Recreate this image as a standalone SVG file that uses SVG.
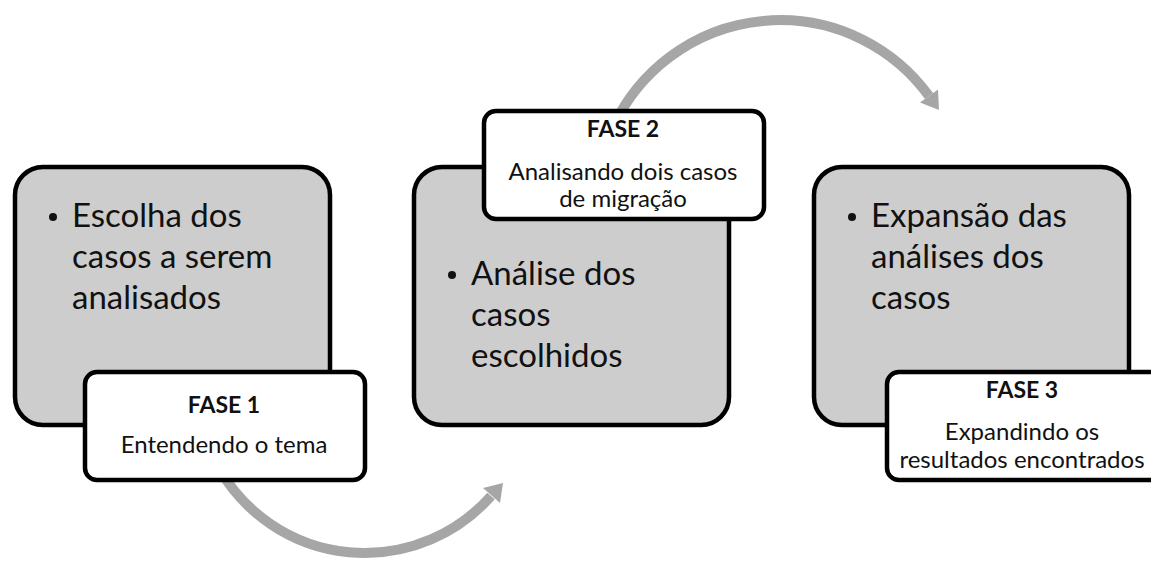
<svg xmlns="http://www.w3.org/2000/svg" width="1151" height="562" viewBox="0 0 1151 562">
<style>
.gray{fill:#cdcdcd;stroke:#000;stroke-width:4.5}
.white{fill:#fff;stroke:#000;stroke-width:4.5}
.big{font-family:Lato,"Open Sans",sans-serif;font-size:33px;fill:#111}
.head{font-family:Lato,"Open Sans",sans-serif;font-size:23px;font-weight:bold;fill:#111;text-anchor:middle}
.body{font-family:Lato,"Open Sans",sans-serif;font-size:24px;fill:#111;text-anchor:middle}
.arc{fill:none;stroke:#a6a6a6;stroke-width:10}
.head-a{fill:#a6a6a6}
</style>
<rect width="1151" height="562" fill="#fff"/>
<g id="connectors">
<path class="arc" d="M 614 125 A 184 184 0 0 1 929 96"/>
<polygon class="head-a" points="939,110 938,89.5 920,102.5"/>
<path class="arc" d="M 220 470 A 168 168 0 0 0 491 496"/>
<polygon class="head-a" points="503,483 500,503 483,488"/>
</g>
<g id="node1">
<rect class="gray" x="15" y="167" width="315" height="258" rx="28"/>
<circle cx="53" cy="217" r="4" fill="#111"/>
<text class="big" x="72" y="227">Escolha dos</text>
<text class="big" x="72" y="268">casos a serem</text>
<text class="big" x="72" y="309">analisados</text>
</g>
<g id="node2">
<rect class="gray" x="414" y="167" width="315" height="258" rx="28"/>
<circle cx="452" cy="275" r="4" fill="#111"/>
<text class="big" x="471" y="285">Análise dos</text>
<text class="big" x="471" y="326">casos</text>
<text class="big" x="471" y="367">escolhidos</text>
</g>
<g id="node3">
<rect class="gray" x="814" y="167" width="315" height="258" rx="28"/>
<circle cx="852" cy="217" r="4" fill="#111"/>
<text class="big" x="871" y="227">Expansão das</text>
<text class="big" x="871" y="268">análises dos</text>
<text class="big" x="871" y="309">casos</text>
</g>
<g id="label1">
<rect class="white" x="85" y="372" width="280" height="108" rx="12"/>
<text class="head" x="224" y="413">FASE 1</text>
<text class="body" x="224" y="453">Entendendo o tema</text>
</g>
<g id="label2">
<rect class="white" x="484" y="111" width="280" height="108" rx="12"/>
<text class="head" x="623" y="137">FASE 2</text>
<text class="body" x="623" y="180">Analisando dois casos</text>
<text class="body" x="623" y="207">de migração</text>
</g>
<g id="label3">
<rect class="white" x="887" y="372" width="280" height="108" rx="12"/>
<text class="head" x="1022" y="398">FASE 3</text>
<text class="body" x="1022" y="440">Expandindo os</text>
<text class="body" x="1022" y="468">resultados encontrados</text>
</g>
</svg>
